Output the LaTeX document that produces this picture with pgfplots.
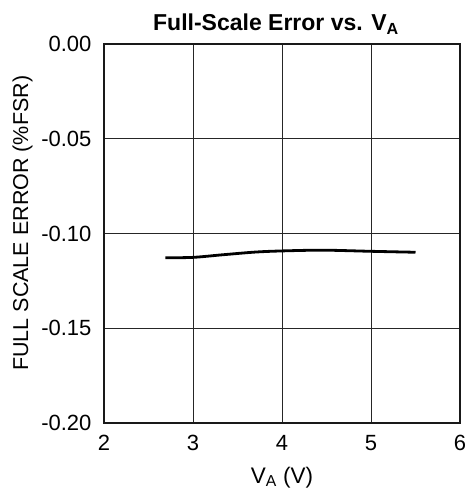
\documentclass[border=0pt]{standalone}
\usepackage{pgfplots}
\pgfplotsset{compat=1.18}
\usepackage{fontspec}
\setmainfont{Liberation Sans}
\begin{document}
\begin{tikzpicture}
\useasboundingbox (-104pt,-66pt) rectangle (361pt,423pt);
\begin{axis}[
  at={(0,0)}, anchor=south west,
  scale only axis, width=356pt, height=379pt,
  xmin=2, xmax=6, ymin=-0.20, ymax=0,
  xtick={2,3,4,5,6}, ytick={-0.20,-0.15,-0.10,-0.05,0},
  /pgf/number format/assume math mode=true,
  tick label style={font=\fontsize{22pt}{24pt}\selectfont},
  x tick label style={yshift=-9pt},
  y tick label style={xshift=-9pt, /pgf/number format/fixed, /pgf/number format/fixed zerofill, /pgf/number format/precision=2},
  xlabel style={font=\fontsize{22.5pt}{26pt}\selectfont, yshift=-9pt},
  ylabel style={font=\fontsize{21.5pt}{24pt}\selectfont, at={(ticklabel cs:0.527)}, yshift=2pt},
  grid=major, major grid style={black!85, line width=1pt},
  axis line style={black!90, line width=1.3pt},
  major tick length=0pt,
  xlabel={V\textsubscript{A} (V)},
  ylabel={FULL SCALE ERROR (\%FSR)},
  title={\textbf{Full-Scale Error vs. V\textsubscript{A}}},
  title style={font=\fontsize{23pt}{25pt}\selectfont, yshift=0pt, xshift=-6pt},
]
\addplot[black, line width=2.8pt, smooth] coordinates {
(2.69,-0.1128) (3.0,-0.1126) (3.34,-0.1112) (3.7,-0.1098) (4.0,-0.1092) (4.46,-0.1088) (5.0,-0.1094) (5.5,-0.1099)
};
\end{axis}
\end{tikzpicture}
\end{document}
